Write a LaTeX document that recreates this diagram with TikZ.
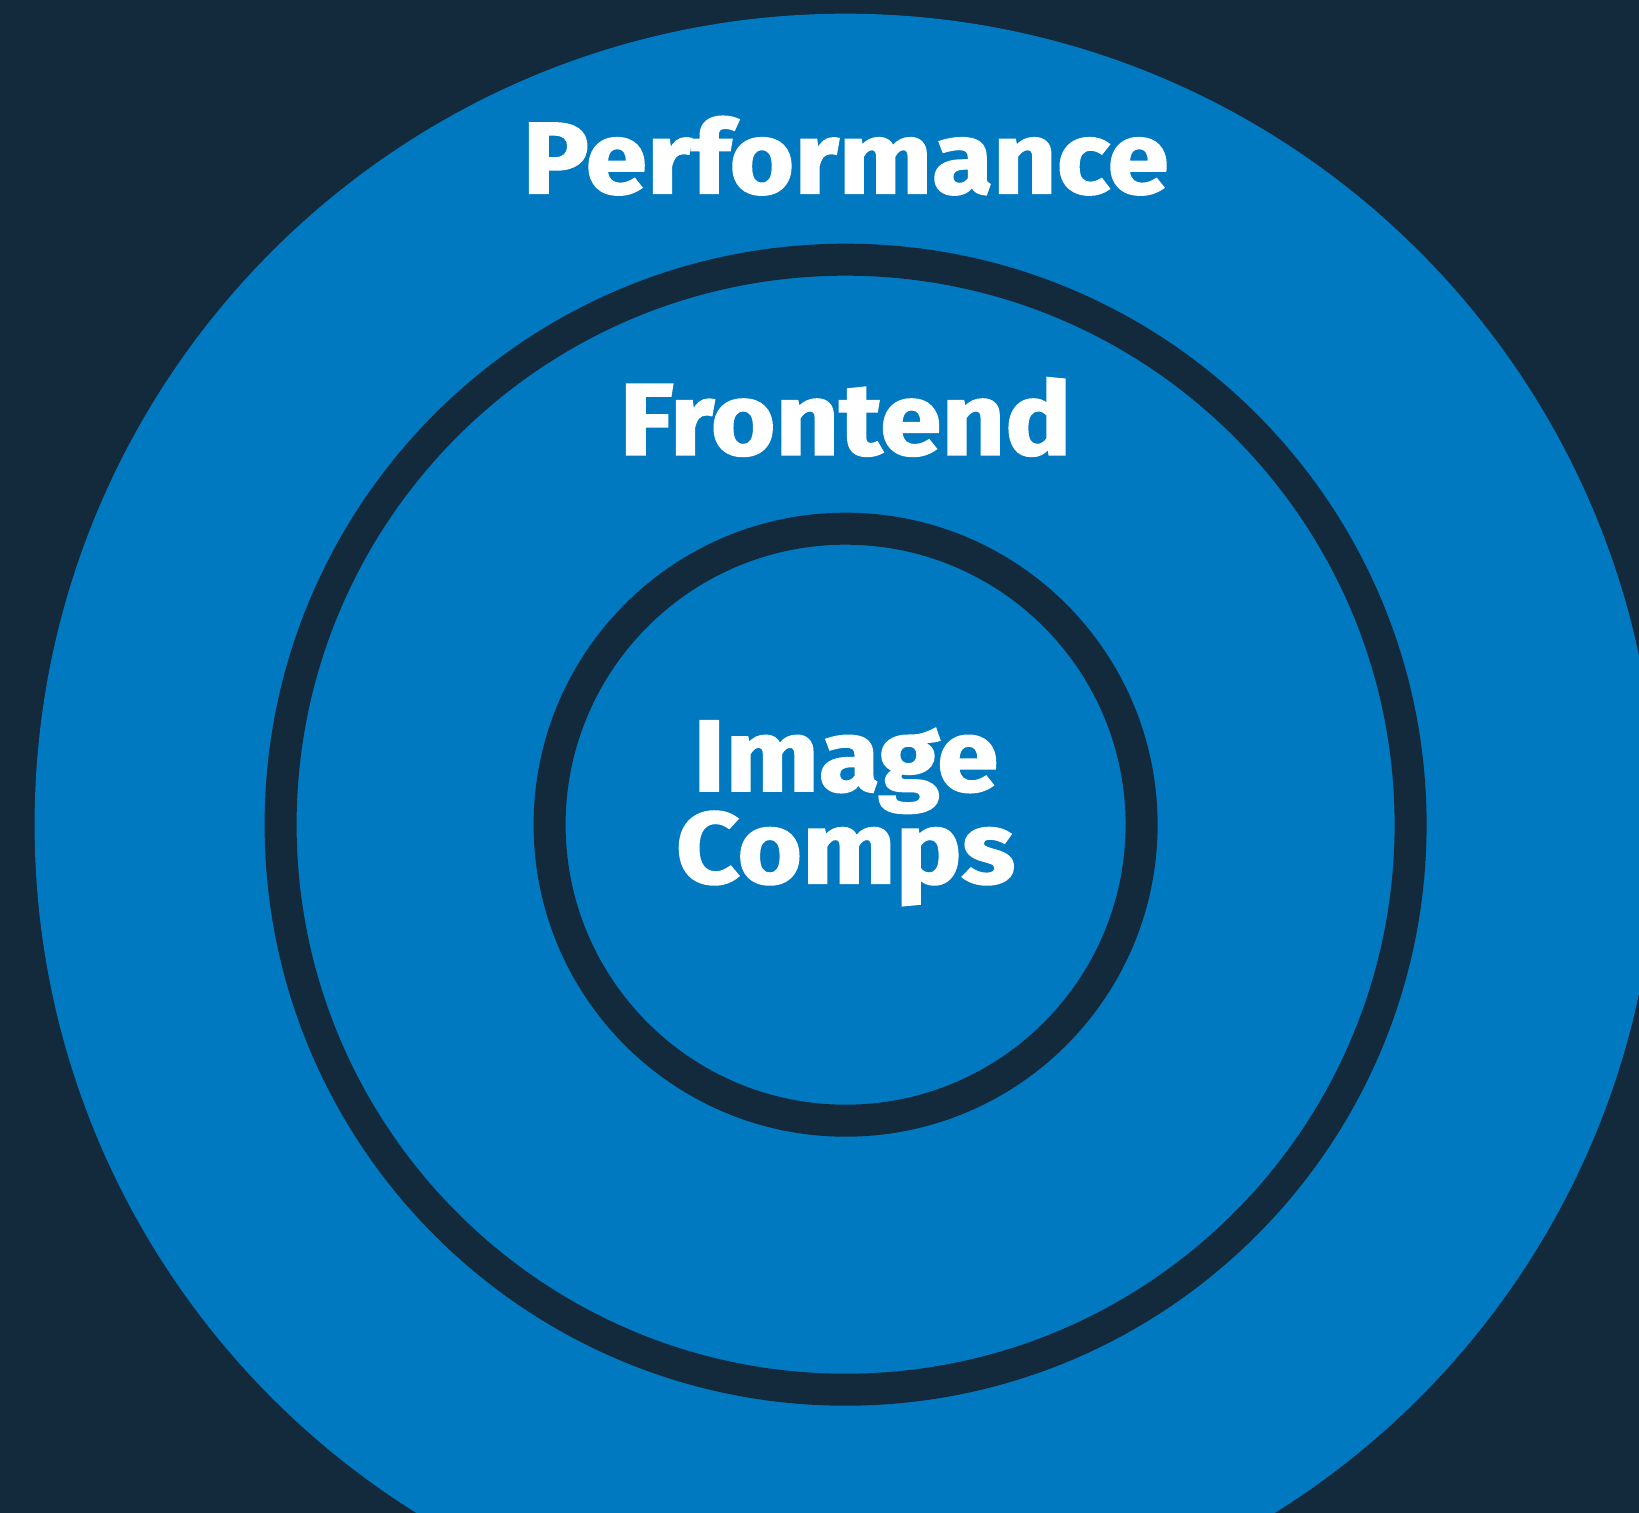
\documentclass[tikz,border=0pt]{standalone}
\usepackage{fontspec}
\setmainfont{Fira Sans}[BoldFeatures={FakeBold=1.6}]
\usetikzlibrary{positioning}
\definecolor{navy}{HTML}{132A3C}
\definecolor{ringblue}{HTML}{0079C1}

\begin{document}
\begin{tikzpicture}[x=1pt,y=1pt]
  \tikzset{RING/.style={draw=navy, line width=32pt},
           LBL/.style={text=white, inner sep=0pt, anchor=base, xscale=1.09,
                       font=\fontsize{101.6}{91}\selectfont\bfseries} }

  \fill[navy] (0,0) rectangle (1639,1513);
  \useasboundingbox (0,0) rectangle (1639,1513);
  \coordinate (c) at (845.6,688.3);

  \begin{scope}
    \clip (0,0) rectangle (1639,1513);
    \fill[ringblue] (c) circle (811);
  \end{scope}

  \draw[RING] (c) circle (565);
  \draw[RING] (c) circle (296);

  \node[LBL] (perf)  at (845.6,1319.6) {Performance};
  \node[LBL] (front) at (845.6,1058.3) {Frontend};
  \node[LBL] (img)   at (845.6,722)    {Image};
  \node[LBL] (comps) at (845.6,629.8)  {Comps};
\end{tikzpicture}
\end{document}
